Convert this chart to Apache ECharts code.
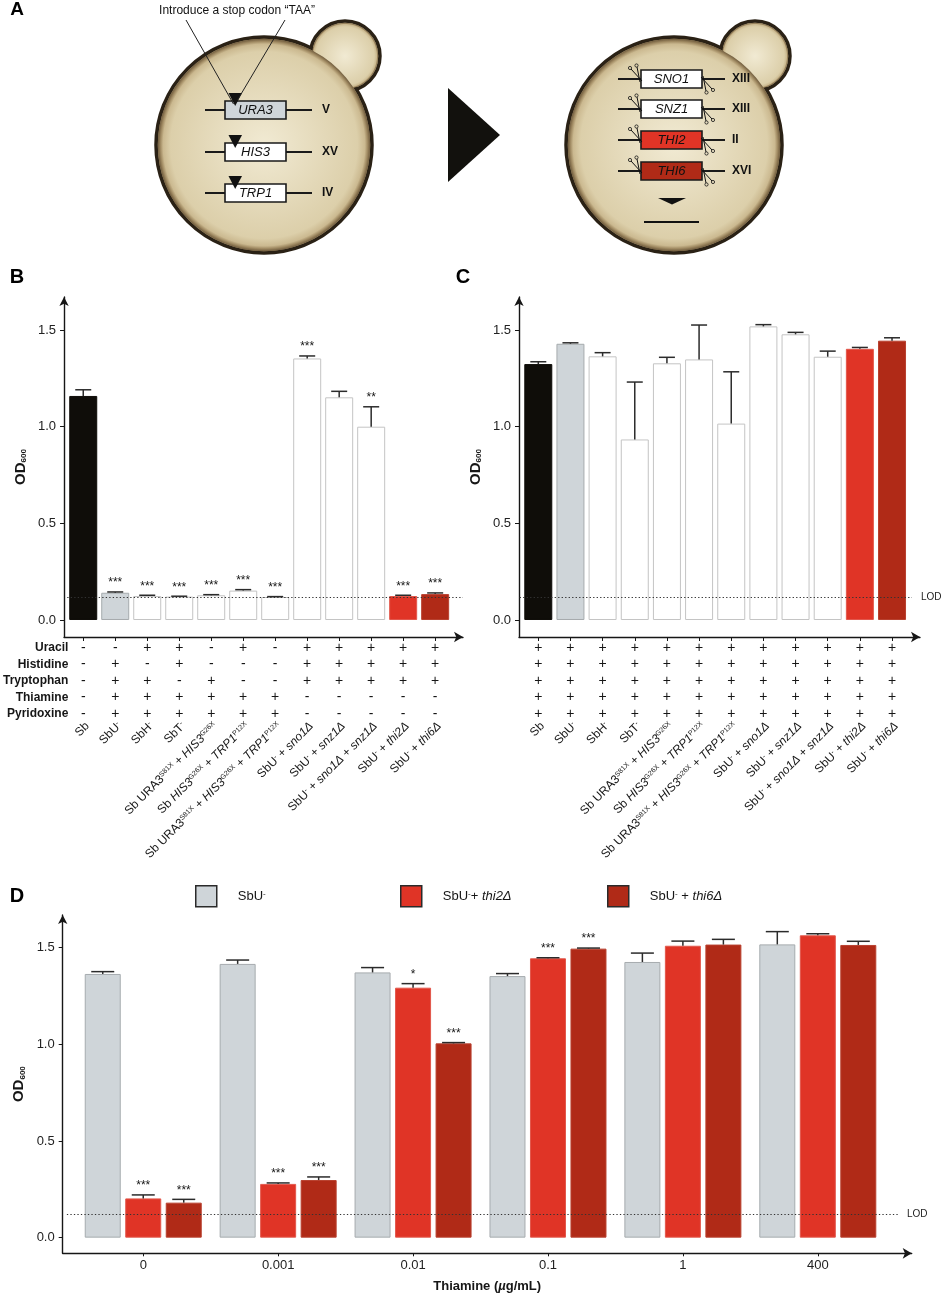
<!DOCTYPE html>
<html>
<head>
<meta charset="utf-8">
<script src="https://cdn.jsdelivr.net/npm/echarts@6/dist/echarts.min.js"></script>
<style>
  html, body { margin: 0; padding: 0; background: #fff; }
  #fig { width: 941px; height: 1295px; }
</style>
</head>
<body>
<div id="fig"></div>
<script>
// ---- data ----
const strainLabels = [
    'Sb',
    'SbU{sup|-}',
    'SbH{sup|-}',
    'SbT{sup|-}',
    'Sb URA3{sup|S81X} + {i|HIS3}{sup|G26X}',
    'Sb {i|HIS3}{sup|G26X} + {i|TRP1}{sup|P12X}',
    'Sb URA3{sup|S81X} + {i|HIS3}{sup|G26X} + {i|TRP1}{sup|P12X}',
    'SbU{sup|-} + {i|sno1Δ}',
    'SbU{sup|-} + {i|snz1Δ}',
    'SbU{sup|-} + {i|sno1Δ} + {i|snz1Δ}',
    'SbU{sup|-} + {i|thi2Δ}',
    'SbU{sup|-} + {i|thi6Δ}',
];
const nutrients = ['Uracil', 'Histidine', 'Tryptophan', 'Thiamine', 'Pyridoxine'];
const mediumB = [
    ['-', '-', '+', '+', '-', '+', '-', '+', '+', '+', '+', '+'],
    ['-', '+', '-', '+', '-', '-', '-', '+', '+', '+', '+', '+'],
    ['-', '+', '+', '-', '+', '-', '-', '+', '+', '+', '+', '+'],
    ['-', '+', '+', '+', '+', '+', '+', '-', '-', '-', '-', '-'],
    ['-', '+', '+', '+', '+', '+', '+', '-', '-', '-', '-', '-'],
];
const mediumC = [
    ['+', '+', '+', '+', '+', '+', '+', '+', '+', '+', '+', '+'],
    ['+', '+', '+', '+', '+', '+', '+', '+', '+', '+', '+', '+'],
    ['+', '+', '+', '+', '+', '+', '+', '+', '+', '+', '+', '+'],
    ['+', '+', '+', '+', '+', '+', '+', '+', '+', '+', '+', '+'],
    ['+', '+', '+', '+', '+', '+', '+', '+', '+', '+', '+', '+'],
];
const bMean = [1.159, 0.141, 0.124, 0.121, 0.128, 0.152, 0.119, 1.353, 1.152, 1.000, 0.124, 0.134];
const bSE   = [0.032, 0.004, 0.004, 0.002, 0.003, 0.005, 0.002, 0.013, 0.031, 0.103, 0.004, 0.006];
const bSig  = ['', '***', '***', '***', '***', '***', '***', '***', '', '**', '***', '***'];
const cMean = [1.324, 1.429, 1.364, 0.934, 1.328, 1.348, 1.016, 1.519, 1.478, 1.362, 1.403, 1.445];
const cSE   = [0.012, 0.005, 0.019, 0.297, 0.031, 0.178, 0.268, 0.009, 0.010, 0.029, 0.007, 0.015];
const cSig  = ['', '', '', '', '', '', '', '', '', '', '', ''];

const thiamineLevels = ['0', '0.001', '0.01', '0.1', '1', '400'];
const dNames = ['SbU-', 'SbU-+ thi2Δ', 'SbU- + thi6Δ'];
const dLegendText = ['SbU{sup|-}', 'SbU{sup|-}+ {i|thi2Δ}', 'SbU{sup|-} + {i|thi6Δ}'];
const dSbU     = [1.364, 1.416, 1.372, 1.353, 1.426, 1.517];
const dSbUSE   = [0.012, 0.020, 0.025, 0.013, 0.046, 0.066];
const dThi2    = [0.203, 0.278, 1.293, 1.445, 1.510, 1.564];
const dThi2SE  = [0.018, 0.005, 0.021, 0.003, 0.024, 0.008];
const dThi6    = [0.181, 0.298, 1.005, 1.495, 1.516, 1.514];
const dThi6SE  = [0.017, 0.016, 0.004, 0.003, 0.027, 0.019];
const dSbUSig  = ['', '', '', '', '', ''];
const dThi2Sig = ['***', '***', '*', '***', '', ''];
const dThi6Sig = ['***', '***', '***', '***', '', ''];

const odTicks = [0, 0.5, 1.0, 1.5];
const LOD = 0.12;

// ---- styles ----
const FONT = '"Liberation Sans", Arial, Helvetica, sans-serif';
const INK = '#161616';
const GREY = '#cfd5d9', RED = '#e03426', DARKRED = '#b02a17';
const strainFill = ['#0f0d09', GREY, '#fff', '#fff', '#fff', '#fff', '#fff', '#fff', '#fff', '#fff', RED, DARKRED];
const strainBorder = ['#0f0d09', '#a6abae', '#c4c4c4', '#c4c4c4', '#c4c4c4', '#c4c4c4', '#c4c4c4', '#c4c4c4', '#c4c4c4', '#c4c4c4', '#e2574b', '#b8402f'];
const rowY = [648, 664.5, 681, 697.5, 714];   // pixel rows of the +/- medium table
const AXIS_Y = 637;
const X_MIN = -0.6, X_MAX = 11.87;
const NAME_END = -0.466;                      // right edge of the row titles, in strain-axis units

const strainIdx = strainLabels.map((_, i) => i);
const dIdx = thiamineLevels.map((_, i) => i);

const richSmall = {
    sup: { fontSize: 7, verticalAlign: 'top', color: INK, fontFamily: FONT },
    i: { fontStyle: 'italic', fontSize: 12, color: INK, fontFamily: FONT },
};

const axisLineStyle = { color: INK, width: 1.4 };

function odAxis(gi, min, max) {
    return {
        gridIndex: gi, type: 'value', min: min, max: max,
        name: '{o|OD}{s|600}', nameLocation: 'middle', nameRotate: 90, nameGap: 36, nameMoveOverlap: false,
        nameTextStyle: {
            rich: {
                o: { fontSize: 15, fontWeight: 'bold', color: INK, fontFamily: FONT },
                s: { fontSize: 8, fontWeight: 'bold', verticalAlign: 'bottom', color: INK, fontFamily: FONT },
            }
        },
        axisLine: { show: true, onZero: false, symbol: ['none', 'arrow'], symbolSize: [7, 9], lineStyle: axisLineStyle },
        axisTick: { show: true, customValues: odTicks, length: 4, lineStyle: { color: INK } },
        axisLabel: { customValues: odTicks, formatter: v => v.toFixed(1), fontSize: 13, margin: 8, color: '#222' },
        splitLine: { show: false },
    };
}

function hiddenRowAxis(gi, y, label) {
    return {
        gridIndex: gi, type: 'value', min: X_MIN, max: X_MAX, position: 'bottom', offset: y - AXIS_Y,
        axisLine: { show: false }, axisTick: { show: false }, splitLine: { show: false },
        axisLabel: Object.assign({ margin: 0, verticalAlign: 'middle', color: INK }, label),
    };
}

// main strain axis + invisible axes that carry the +/- medium rows (and their titles)
function strainAxes(gi, table, withNames) {
    const axes = [{
        gridIndex: gi, type: 'value', min: X_MIN, max: X_MAX, position: 'bottom',
        axisLine: { onZero: false, symbol: ['none', 'arrow'], symbolSize: [8, 9], lineStyle: axisLineStyle },
        axisTick: { customValues: strainIdx, length: 4, lineStyle: { color: INK } },
        axisLabel: {
            customValues: strainIdx, rotate: 45, margin: 83, align: 'right', verticalAlign: 'top',
            fontSize: 12, color: INK, rich: richSmall,
            formatter: v => strainLabels[Math.round(v)],
        },
        splitLine: { show: false },
    }];
    rowY.forEach((y, r) => {
        axes.push(hiddenRowAxis(gi, y, {
            customValues: strainIdx, fontSize: 14, formatter: v => table[r][Math.round(v)],
        }));
        if (withNames) axes.push(hiddenRowAxis(gi, y, {
            customValues: [NAME_END], align: 'right', fontSize: 12, fontWeight: 'bold',
            formatter: () => nutrients[r],
        }));
    });
    return axes;
}

function errSeries(xi, yi, mean, se, sig, dx, cap) {
    return {
        type: 'custom', xAxisIndex: xi, yAxisIndex: yi, z: 6, silent: true,
        data: mean.map((m, i) => [i, m, se[i]]),
        renderItem: (params, api) => {
            const i = api.value(0), m = api.value(1), e = api.value(2);
            const p0 = api.coord([i, m]), p1 = api.coord([i, m + e]);
            const x = p0[0] + dx;
            const st = { stroke: '#2b2b2b', lineWidth: 1.5 };
            const kids = [
                { type: 'line', shape: { x1: x, y1: p0[1], x2: x, y2: p1[1] }, style: st },
                { type: 'line', shape: { x1: x - cap, y1: p1[1], x2: x + cap, y2: p1[1] }, style: st },
            ];
            const s = sig[params.dataIndex];
            if (s) kids.push({
                type: 'text',
                style: { text: s, x: x, y: p1[1] - 3, font: '12px ' + FONT, fill: INK, align: 'center', verticalAlign: 'bottom' }
            });
            return { type: 'group', children: kids };
        }
    };
}

function lodLine(x0, x1, withLabel) {
    return {
        silent: true, symbol: 'none', animation: false,
        lineStyle: { type: [1.3, 2.2], color: '#333', width: 1.1 },
        label: withLabel
            ? { show: true, position: 'end', formatter: 'LOD', fontSize: 10, color: '#222', distance: 9 }
            : { show: false },
        data: [[{ coord: [x0, LOD] }, { coord: [x1, LOD] }]],
    };
}

function strainBars(xi, yi, mean, lod) {
    return {
        type: 'bar', xAxisIndex: xi, yAxisIndex: yi, barWidth: 28,
        data: mean.map((m, i) => ({
            value: [i, m],
            itemStyle: { color: strainFill[i], borderColor: strainBorder[i], borderWidth: 1 }
        })),
        markLine: lod,
    };
}

// ---- panel A (schematic) ----
function cellShapes(cx, cy, r, bx, by, br) {
    const grad = () => ({
        type: 'radial', x: 0.5, y: 0.5, r: 0.5,
        colorStops: [
            { offset: 0, color: '#f1ead3' }, { offset: 0.88, color: '#dccfaa' },
            { offset: 0.95, color: '#cbb990' }, { offset: 0.975, color: '#a18b63' }, { offset: 1, color: '#6e5a3c' }]
    });
    return [
        { type: 'circle', shape: { cx: bx, cy: by, r: br }, style: { fill: grad(), stroke: '#2a2115', lineWidth: 3.5 } },
        { type: 'circle', shape: { cx: cx, cy: cy, r: r }, style: { fill: grad(), stroke: '#2a2115', lineWidth: 3.5 } },
        { type: 'circle', shape: { cx: bx, cy: by, r: br - 1.8 }, style: { fill: grad() } },
        { type: 'circle', shape: { cx: cx, cy: cy, r: r - 1.8 }, style: { fill: grad() } },
    ];
}

function geneRow(g, x0, x1, lx0, lx1, cx) {
    return [
        { type: 'line', shape: { x1: lx0, y1: g.y, x2: lx1, y2: g.y }, style: { stroke: '#1a1a1a', lineWidth: 2 } },
        { type: 'rect', shape: { x: x0, y: g.y - 9, width: x1 - x0, height: 18 }, style: { fill: g.fill, stroke: '#1a1a1a', lineWidth: 1.6 } },
        { type: 'text', style: { text: g.name, x: (x0 + x1) / 2, y: g.y + 0.5, font: 'italic 13px ' + FONT, fill: '#111', align: 'center', verticalAlign: 'middle' } },
        { type: 'text', style: { text: g.chr, x: cx, y: g.y, font: 'bold 12px ' + FONT, fill: '#111', align: 'left', verticalAlign: 'middle' } },
    ];
}

function scissors(x0, x1, y) {
    const st = { stroke: '#111', lineWidth: 1 };
    const ring = { fill: 'none', stroke: '#111', lineWidth: 0.8 };
    return [
        { type: 'line', shape: { x1: x0 - 10, y1: y - 10, x2: x0 + 1, y2: y + 2 }, style: st },
        { type: 'line', shape: { x1: x0 - 4, y1: y - 12, x2: x0 - 1, y2: y + 3 }, style: st },
        { type: 'circle', shape: { cx: x0 - 11, cy: y - 11, r: 1.6 }, style: ring },
        { type: 'circle', shape: { cx: x0 - 4.5, cy: y - 13.5, r: 1.6 }, style: ring },
        { type: 'line', shape: { x1: x1 - 1, y1: y - 2, x2: x1 + 10, y2: y + 10 }, style: st },
        { type: 'line', shape: { x1: x1 + 1, y1: y - 3, x2: x1 + 4, y2: y + 12 }, style: st },
        { type: 'circle', shape: { cx: x1 + 11, cy: y + 11, r: 1.6 }, style: ring },
        { type: 'circle', shape: { cx: x1 + 4.5, cy: y + 13.5, r: 1.6 }, style: ring },
    ];
}

const leftGenes = [
    { name: 'URA3', y: 110, fill: GREY, chr: 'V' },
    { name: 'HIS3', y: 152, fill: '#fff', chr: 'XV' },
    { name: 'TRP1', y: 193, fill: '#fff', chr: 'IV' },
];
const rightGenes = [
    { name: 'SNO1', y: 79, fill: '#fff', chr: 'XIII' },
    { name: 'SNZ1', y: 109, fill: '#fff', chr: 'XIII' },
    { name: 'THI2', y: 140, fill: RED, chr: 'II' },
    { name: 'THI6', y: 171, fill: DARKRED, chr: 'XVI' },
];

let panelA = [];
panelA = panelA.concat(cellShapes(264, 145, 108, 345, 56, 35));
panelA = panelA.concat(cellShapes(674, 145, 108, 755, 56, 35));
leftGenes.forEach(g => {
    panelA = panelA.concat(geneRow(g, 225, 286, 205, 312, 322));
    panelA.push({ type: 'polygon', shape: { points: [[228.5, g.y - 17], [242, g.y - 17], [235.2, g.y - 4]] }, style: { fill: '#111' } });
});
rightGenes.forEach(g => {
    panelA = panelA.concat(geneRow(g, 641, 702, 618, 725, 732));
    panelA = panelA.concat(scissors(641, 702, g.y));
});
panelA.push(
    { type: 'line', shape: { x1: 186, y1: 20, x2: 233.5, y2: 104 }, style: { stroke: '#222', lineWidth: 1 } },
    { type: 'line', shape: { x1: 285, y1: 20, x2: 237.5, y2: 100 }, style: { stroke: '#222', lineWidth: 1 } },
    { type: 'text', style: { text: 'Introduce a stop codon “TAA”', x: 237, y: 11, font: '12px ' + FONT, fill: '#111', align: 'center', verticalAlign: 'middle' } },
    { type: 'polygon', shape: { points: [[448, 88], [448, 182], [500, 135]] }, style: { fill: '#12110d' } },
    { type: 'polygon', shape: { points: [[658, 198], [686, 198], [672, 204.5]] }, style: { fill: '#111' } },
    { type: 'line', shape: { x1: 644, y1: 222, x2: 699, y2: 222 }, style: { stroke: '#111', lineWidth: 2 } },
);
const letters = [['A', 17, 10, 19], ['B', 17, 277, 20], ['C', 463, 277, 20], ['D', 17, 896, 20]];
letters.forEach(l => panelA.push({
    type: 'text', style: { text: l[0], x: l[1], y: l[2], font: 'bold ' + l[3] + 'px ' + FONT, fill: '#000', align: 'center', verticalAlign: 'middle' }
}));

// ---- chart ----
const chart = echarts.init(document.getElementById('fig'), null, { renderer: 'canvas' });

const axesB = strainAxes(0, mediumB, true);
const axesC = strainAxes(1, mediumC, false);
const IDX_C = axesB.length;
const IDX_D = axesB.length + axesC.length;
const xAxes = [].concat(axesB, axesC, [{
    gridIndex: 2, type: 'value', min: -0.597, max: 5.696,
    axisLine: { onZero: false, symbol: ['none', 'arrow'], symbolSize: [8, 9], lineStyle: axisLineStyle },
    axisTick: { customValues: dIdx, length: 3, lineStyle: { color: INK } },
    axisLabel: { customValues: dIdx, formatter: v => thiamineLevels[Math.round(v)], fontSize: 13, margin: 6, color: '#222' },
    splitLine: { show: false },
    name: '{b|Thiamine (}{m|µ}{b|g/mL)}', nameLocation: 'middle', nameGap: 27, nameMoveOverlap: false,
    nameTextStyle: {
        rich: {
            b: { fontWeight: 'bold', fontSize: 13, color: INK, fontFamily: FONT },
            m: { fontWeight: 'bold', fontStyle: 'italic', fontSize: 13, color: INK, fontFamily: FONT },
        }
    },
}]);

const dSets = [
    { mean: dSbU, se: dSbUSE, sig: dSbUSig, color: GREY, border: '#a6abae', dx: -40.5 },
    { mean: dThi2, se: dThi2SE, sig: dThi2Sig, color: RED, border: '#e2574b', dx: 0 },
    { mean: dThi6, se: dThi6SE, sig: dThi6Sig, color: DARKRED, border: '#b8402f', dx: 40.5 },
];

const series = [
    strainBars(0, 0, bMean, lodLine(-0.5, X_MAX, false)),
    errSeries(0, 0, bMean, bSE, bSig, 0, 8),
    strainBars(IDX_C, 1, cMean, lodLine(-0.58, 11.62, true)),
    errSeries(IDX_C, 1, cMean, cSE, cSig, 0, 8),
];
dSets.forEach((d, k) => {
    series.push({
        type: 'bar', name: dNames[k], xAxisIndex: IDX_D, yAxisIndex: 2, barWidth: 36, barGap: '12.5%',
        itemStyle: { color: d.color, borderColor: d.border, borderWidth: 1 },
        data: d.mean.map((m, i) => [i, m]),
        // the middle series sits on the group centre, so its marker coords are not shifted
        markLine: k === 1 ? lodLine(-0.566, 5.594, true) : undefined,
    });
});
dSets.forEach(d => series.push(errSeries(IDX_D, 2, d.mean, d.se, d.sig, d.dx, 11.5)));

chart.setOption({
    animation: false,
    backgroundColor: '#fff',
    textStyle: { fontFamily: FONT },
    grid: [
        { left: 62.7, top: 297, width: 400.3, height: 340 },
        { left: 519, top: 297, width: 401, height: 340 },
        { left: 62.7, top: 915, width: 849, height: 338.3 },
    ],
    xAxis: xAxes,
    yAxis: [
        odAxis(0, -0.088, 1.671),
        odAxis(1, -0.088, 1.671),
        odAxis(2, -0.081, 1.669),
    ],
    legend: dNames.map((n, k) => ({
        left: [195, 400, 607][k], top: 885, padding: 0, data: [n],
        icon: 'rect', itemWidth: 21, itemHeight: 21, selectedMode: false,
        itemStyle: { borderColor: '#2a2a2a', borderWidth: 1.5 },
        formatter: () => dLegendText[k],
        textStyle: {
            fontSize: 13, color: INK, padding: [0, 0, 0, 16],
            rich: {
                sup: { fontSize: 8, verticalAlign: 'top', color: INK },
                i: { fontStyle: 'italic', fontSize: 13, color: INK },
            }
        },
    })),
    graphic: { elements: panelA },
    series: series,
});
window.addEventListener('resize', () => chart.resize());
</script>
</body>
</html>
